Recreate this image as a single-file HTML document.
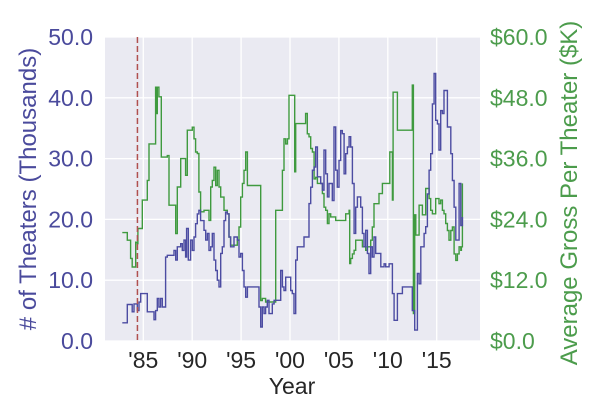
<!DOCTYPE html>
<html><head><meta charset="utf-8"><style>
body{margin:0;background:#fff;}
svg{display:block;font-family:"Liberation Sans",Arial,sans-serif;}
</style></head><body>
<svg id="chart" width="600" height="420">
<rect x="105" y="37" width="375" height="304" fill="#eaeaf2"/>
<g id="grid"></g>
<g id="series"></g>
<g id="axes"></g>
</svg>
<script>
const xTicks=[1985,1990,1995,2000,2005,2010,2015];
const xTickLabels=["'85","'90","'95","'00","'05","'10","'15"];
const leftTicks=[0,10,20,30,40,50];
const leftTickLabels=["0.0","10.0","20.0","30.0","40.0","50.0"];
const rightTicks=[0,12,24,36,48,60];
const rightTickLabels=["$0.0","$12.0","$24.0","$36.0","$48.0","$60.0"];
const markerYear=1984.4;
const theaterYears=[1982.85,1983.36,1983.87,1984.05,1984.39,1984.56,1984.73,1985.24,1985.41,1986.09,1986.26,1986.43,1986.6,1986.77,1986.94,1987.28,1987.45,1988.14,1988.31,1988.48,1988.82,1988.99,1989.16,1989.33,1989.43,1989.6,1989.84,1990.01,1990.18,1990.35,1990.52,1990.69,1990.86,1991.21,1991.38,1991.55,1991.72,1991.89,1992.06,1992.23,1992.4,1992.57,1992.74,1992.91,1993.08,1993.25,1993.42,1993.59,1993.76,1993.93,1994.27,1994.61,1994.79,1994.96,1995.13,1995.3,1995.47,1995.64,1996.66,1996.83,1997.0,1997.17,1997.34,1997.51,1997.68,1997.85,1998.02,1998.19,1998.37,1998.71,1999.05,1999.22,1999.39,1999.56,1999.9,2000.07,2000.24,2000.41,2000.58,2000.75,2001.09,2001.43,2001.77,2001.94,2002.12,2002.29,2002.46,2002.63,2002.8,2003.14,2003.31,2003.48,2003.65,2003.82,2003.99,2004.16,2004.33,2004.5,2004.67,2004.84,2005.01,2005.18,2005.35,2005.53,2005.7,2005.87,2006.04,2006.21,2006.38,2006.55,2006.72,2006.89,2007.23,2007.4,2007.57,2007.74,2007.91,2008.08,2008.25,2008.42,2008.59,2008.76,2009.28,2009.45,2009.62,2009.79,2010.13,2010.3,2010.47,2010.64,2010.98,2011.32,2011.49,2012.51,2012.62,2012.75,2013.03,2013.2,2013.37,2013.71,2013.88,2014.05,2014.22,2014.39,2014.56,2014.73,2014.9,2015.07,2015.24,2015.41,2015.58,2015.75,2016.09,2016.26,2016.44,2016.61,2016.78,2016.95,2017.12,2017.29,2017.46,2017.63];
const theaterValues=[3.0,6.0,4.8,6.1,5.0,6.4,7.8,7.8,4.8,3.5,5.0,7.0,5.6,7.0,5.6,13.8,14.1,14.9,13.3,15.5,16.0,14.9,16.6,13.8,18.5,13.3,16.6,14.9,17.1,19.3,20.9,21.5,19.8,18.2,16.6,17.7,14.9,15.5,17.7,13.3,11.6,10.0,8.9,14.4,15.5,19.8,21.2,20.9,17.1,15.5,17.1,16.6,13.8,14.4,11.6,8.9,7.2,8.9,8.9,5.6,2.3,5.6,4.5,5.6,6.7,4.5,4.5,6.1,6.7,6.7,11.6,8.9,8.3,10.5,10.5,8.3,7.8,4.5,13.3,15.5,15.5,17.1,17.1,22.6,25.3,28.1,28.6,31.9,27.0,25.9,24.8,31.4,27.5,23.7,25.9,25.9,23.1,35.2,28.1,25.3,29.7,34.6,34.1,27.5,30.8,31.9,33.6,31.9,25.9,17.7,22.0,23.7,22.0,17.7,15.5,18.2,14.4,11.1,15.5,13.8,17.1,14.4,12.2,12.2,12.7,12.2,12.7,12.7,7.8,3.4,7.8,7.8,8.9,5.0,5.0,1.8,11.1,9.4,15.5,17.7,18.8,24.2,28.1,30.8,39.0,44.0,36.3,35.7,31.4,37.9,37.4,41.2,35.2,35.2,30.8,26.4,22.0,16.6,16.6,25.9,19.0,20.4,19.0];
const grossYears=[1982.85,1983.36,1983.53,1983.7,1983.87,1984.05,1984.22,1984.39,1984.45,1984.73,1984.9,1985.24,1985.41,1985.58,1986.09,1986.26,1986.36,1986.43,1986.6,1986.77,1986.84,1987.28,1987.45,1987.63,1988.14,1988.31,1988.48,1988.65,1988.82,1989.16,1989.33,1989.5,1989.84,1990.01,1990.18,1990.35,1990.52,1990.69,1990.86,1991.03,1991.21,1991.55,1991.72,1991.89,1992.06,1992.23,1992.4,1992.57,1992.74,1992.91,1993.25,1993.59,1993.76,1993.93,1994.27,1994.61,1994.79,1994.96,1995.13,1995.3,1995.47,1995.64,1996.83,1997.0,1997.17,1997.51,1998.37,1998.54,1999.05,1999.22,1999.39,1999.56,1999.73,1999.9,2000.41,2000.48,2000.58,2001.43,2001.6,2001.77,2001.94,2002.12,2002.29,2002.46,2002.63,2002.8,2003.14,2003.31,2003.48,2003.65,2003.82,2003.99,2004.16,2004.5,2004.67,2005.18,2005.7,2006.04,2006.1,2006.21,2006.38,2006.55,2006.72,2007.23,2007.4,2007.74,2007.91,2008.25,2008.42,2008.59,2008.93,2009.1,2009.45,2010.13,2010.2,2010.47,2010.54,2010.91,2010.98,2011.49,2012.51,2012.58,2012.62,2012.75,2012.86,2013.2,2013.37,2013.54,2013.88,2014.05,2014.22,2014.39,2014.56,2014.9,2015.07,2015.24,2015.41,2015.58,2015.75,2015.92,2016.09,2016.26,2016.44,2016.61,2016.78,2016.95,2017.12,2017.29,2017.46,2017.53,2017.63];
const grossValues=[21.4,19.9,19.9,16.3,14.6,14.6,19.5,19.2,22.2,22.2,27.8,27.8,31.7,38.9,38.9,50.1,44.9,50.1,48.2,48.2,36.3,36.3,36.6,26.8,26.8,21.2,30.4,30.4,36.0,36.0,32.7,41.6,41.6,42.2,39.9,37.3,37.0,29.4,25.5,25.5,25.8,25.8,23.8,30.4,31.7,34.3,30.7,33.7,30.4,28.4,25.8,25.1,20.5,18.9,18.9,19.9,22.5,28.4,31.1,33.7,37.3,30.7,30.7,8.0,8.4,7.7,7.7,25.8,25.8,33.7,39.9,38.9,39.9,48.5,48.5,33.4,42.9,42.9,44.9,40.9,40.3,38.0,37.3,32.0,32.3,31.1,31.1,29.1,26.4,25.8,23.2,25.1,24.5,24.5,23.8,23.8,25.1,25.8,15.3,16.3,17.2,17.9,19.9,19.9,18.6,17.9,18.6,19.9,22.5,27.1,27.1,29.1,31.1,31.1,37.3,27.8,49.1,49.1,41.6,41.6,50.5,50.5,5.4,24.9,20.9,26.8,26.8,24.9,30.1,30.1,28.1,25.8,25.1,28.1,28.1,27.1,27.8,25.8,25.1,23.2,21.8,19.9,21.8,22.5,17.2,15.9,17.2,18.6,17.9,18.6,31.1,31.1];

const svgNS="http://www.w3.org/2000/svg";
const X=y=>143.3+(y-1985)*9.78;
const YL=v=>341-v*6.08;
const YR=v=>341-v*5.0667;
function mk(tag,attrs,parent){const e=document.createElementNS(svgNS,tag);for(const k in attrs)e.setAttribute(k,attrs[k]);parent.appendChild(e);return e;}
const grid=document.getElementById('grid'),series=document.getElementById('series'),axes=document.getElementById('axes');
xTicks.forEach((t,i)=>{
  const g=mk('line',{x1:X(t),x2:X(t),y1:37,y2:341,stroke:'#fff','stroke-width':1.3},grid);
  
  
  const l=mk('text',{x:X(t),y:368,'text-anchor':'middle','font-size':23,fill:'#262626'},axes);
  l.textContent=xTickLabels[i];
  
  
});
leftTicks.forEach((t,i)=>{
  const g=mk('line',{x1:105,x2:480,y1:YL(t),y2:YL(t),stroke:'#fff','stroke-width':1.3},grid);
  
  
  const l=mk('text',{x:93,y:YL(t)+8,'text-anchor':'end','font-size':23,fill:'#4a4a9c'},axes);
  l.textContent=leftTickLabels[i];
  
  
});
rightTicks.forEach((t,i)=>{
  const l=mk('text',{x:490,y:YR(t)+8,'text-anchor':'start','font-size':23,fill:'#4c9c4c'},axes);
  l.textContent=rightTickLabels[i];
  
  
});
function stepPath(xs,vs,yf){let d='';for(let i=0;i<xs.length;i++){const x=X(xs[i]).toFixed(1),y=yf(vs[i]).toFixed(1);if(i===0)d='M'+x+','+y;else d+='H'+x+'V'+y;}return d;}
const gp=mk('path',{d:stepPath(grossYears,grossValues,YR),fill:'none',stroke:'#3f9a3f','stroke-width':1.4},series);


const tp=mk('path',{d:stepPath(theaterYears,theaterValues,YL),fill:'none',stroke:'#4c4ca2','stroke-width':1.4},series);


const ml=mk('line',{x1:X(markerYear),x2:X(markerYear),y1:37,y2:341,stroke:'#b05050','stroke-width':1.5,'stroke-dasharray':'6,3'},series);


const xt=mk('text',{x:292,y:394,'text-anchor':'middle','font-size':23,fill:'#262626'},axes);
xt.textContent='Year';


const lt=mk('text',{x:0,y:0,'text-anchor':'middle','font-size':24,fill:'#4a4a9c',transform:'translate(36,189) rotate(-90)'},axes);
lt.textContent='# of Theaters (Thousands)';


const rt=mk('text',{x:0,y:0,'text-anchor':'middle','font-size':24,fill:'#4c9c4c',transform:'translate(577,193) rotate(-90)'},axes);
rt.textContent='Average Gross Per Theater ($K)';


</script>
</body></html>
